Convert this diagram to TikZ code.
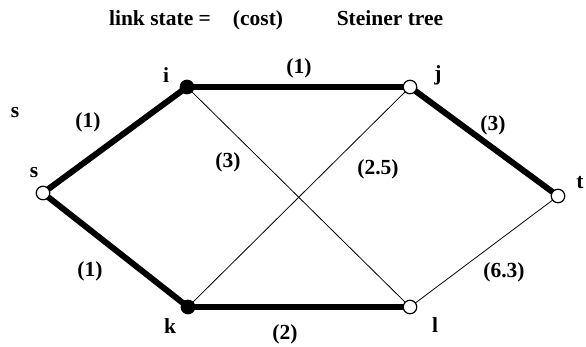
\documentclass[tikz,border=0pt]{standalone}
\usepackage{fontspec}
\setmainfont{Liberation Serif}
\usetikzlibrary{backgrounds}
\tikzset{
  vtx/.style={circle, draw, line width=1.2pt, fill=white, minimum size=13.5pt, inner sep=0pt},
  vtxon/.style={vtx, fill=black},
  tree/.style={line width=6pt},
  link/.style={line width=0.8pt},
  lbl/.style={font=\bfseries\fontsize{21.5}{24}\selectfont, inner sep=0pt}
}
\begin{document}
\begin{tikzpicture}[x=1pt, y=-1pt]
  \useasboundingbox (0,0) rectangle (586,346);

  % Title
  \node[lbl, anchor=base] (ttlstate) at (160,25) {link state =};
  \node[lbl, anchor=base] (ttlcost) at (258,25) {(cost)};
  \node[lbl, anchor=base] (ttltree) at (390,25) {Steiner tree};

  % Vertices
  \node[vtx] (s) at (43,193) {};
  \node[vtxon] (i) at (187,87) {};
  \node[vtx] (j) at (410,87) {};
  \node[vtx] (t) at (558,196) {};
  \node[vtxon] (k) at (188,307) {};
  \node[vtx] (l) at (410,307) {};

  % Vertex names
  \node[lbl] (sname) at (34,173) {s};
  \node[lbl] (sside) at (15,113) {s};
  \node[lbl] (iname) at (166,75) {i};
  \node[lbl] (jname) at (438,75) {j};
  \node[lbl] (tname) at (580,183) {t};
  \node[lbl] (kname) at (170,326) {k};
  \node[lbl] (lname) at (435,325) {l};

  % Links (tree links thick)
  \begin{scope}[on background layer]
    \draw[tree] (s.center) -- (i.center);
    \draw[tree] (s.center) -- (k.center);
    \draw[tree] (i.center) -- (j.center);
    \draw[tree] (j.center) -- (t.center);
    \draw[tree] (k.center) -- (l.center);
    \draw[link] (i.center) -- (l.center);
    \draw[link] (k.center) -- (j.center);
    \draw[link] (l.center) -- (t.center);
  \end{scope}

  % Costs
  \node[lbl] (csi) at (88,122) {(1)};
  \node[lbl] (csk) at (90,271) {(1)};
  \node[lbl] (cij) at (299,68) {(1)};
  \node[lbl] (cjt) at (493,125) {(3)};
  \node[lbl] (cil) at (228,162) {(3)};
  \node[lbl] (ckj) at (378,169) {(2.5)};
  \node[lbl] (ckl) at (285,334) {(2)};
  \node[lbl] (clt) at (504,272) {(6.3)};
\end{tikzpicture}
\end{document}
